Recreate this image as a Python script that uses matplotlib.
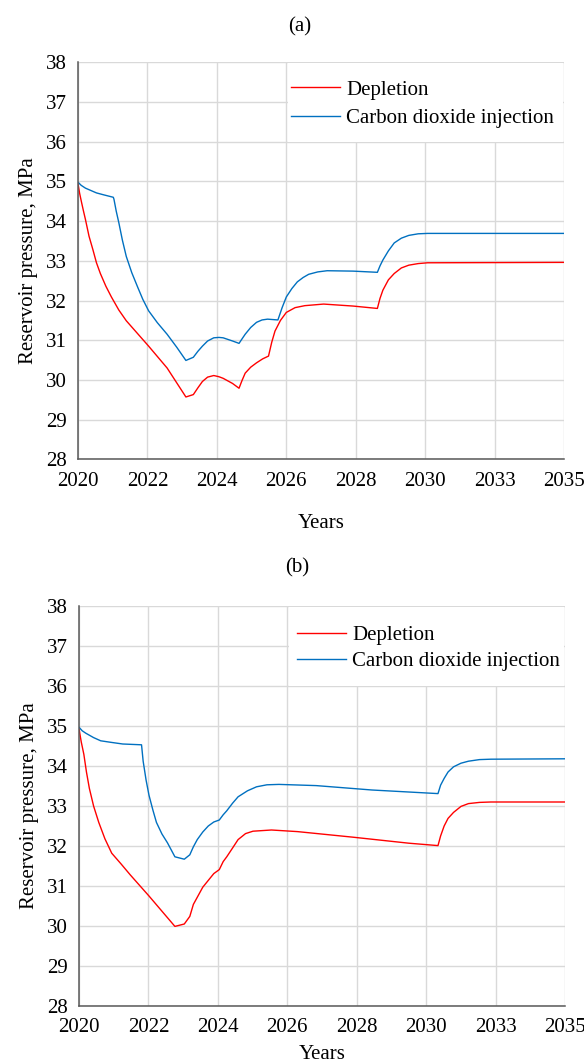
import matplotlib
matplotlib.use("Agg")
import matplotlib.pyplot as plt
import numpy as np
from matplotlib.patches import Rectangle

plt.rcParams["font.family"] = ["Liberation Serif", "DejaVu Serif"]

tick_labels = ["2020", "2022", "2024", "2026", "2028", "2030", "2033", "2035"]
y_ticks = [28, 29, 30, 31, 32, 33, 34, 35, 36, 37, 38]

# panel (a)
years_a_dep = [2020.0, 2020.05, 2020.11, 2020.17, 2020.23, 2020.34, 2020.46, 2020.57, 2020.69,
               2020.86, 2021.03, 2021.26, 2021.49, 2022.18, 2022.75, 2023.33, 2023.56, 2023.7,
               2023.84, 2024.0, 2024.19, 2024.35, 2024.48, 2024.77, 2024.97, 2025.06, 2025.16,
               2025.33, 2025.51, 2025.7, 2025.88, 2025.98, 2026.08, 2026.25, 2026.43, 2026.7,
               2027.0, 2027.58, 2028.49, 2029.24, 2029.32, 2029.41, 2029.58, 2029.76, 2029.98,
               2030.21, 2030.5, 2030.79, 2035.0]
press_a_dep = [34.94, 34.70, 34.47, 34.25, 34.04, 33.62, 33.28, 32.95, 32.68,
               32.36, 32.09, 31.76, 31.49, 30.85, 30.30, 29.57, 29.63, 29.80,
               29.96, 30.07, 30.11, 30.08, 30.04, 29.91, 29.79, 29.98, 30.17,
               30.32, 30.43, 30.53, 30.60, 30.95, 31.23, 31.50, 31.70, 31.82,
               31.87, 31.91, 31.86, 31.80, 32.05, 32.26, 32.52, 32.68, 32.82,
               32.89, 32.93, 32.95, 32.96]
years_a_co2 = [2020.0, 2020.1, 2020.23, 2020.4, 2020.57, 2020.8, 2021.09, 2021.11, 2021.18,
               2021.26, 2021.37, 2021.49, 2021.66, 2021.84, 2022.0, 2022.18, 2022.45, 2022.75,
               2023.05, 2023.33, 2023.56, 2023.7, 2023.84, 2024.0, 2024.19, 2024.35, 2024.48,
               2024.77, 2024.97, 2025.06, 2025.16, 2025.33, 2025.51, 2025.68, 2025.85, 2026.17,
               2026.3, 2026.43, 2026.6, 2026.77, 2026.95, 2027.12, 2027.4, 2027.69, 2028.49,
               2029.24, 2029.32, 2029.41, 2029.58, 2029.76, 2029.98, 2030.21, 2030.5, 2030.79,
               2035.0]
press_a_co2 = [34.98, 34.90, 34.83, 34.77, 34.71, 34.66, 34.60, 34.55, 34.25,
               33.96, 33.52, 33.11, 32.70, 32.34, 32.03, 31.74, 31.44, 31.15,
               30.82, 30.49, 30.57, 30.72, 30.85, 30.98, 31.06, 31.07, 31.06,
               30.98, 30.92, 31.03, 31.15, 31.32, 31.45, 31.51, 31.53, 31.51,
               31.82, 32.09, 32.30, 32.47, 32.58, 32.66, 32.72, 32.75, 32.74,
               32.71, 32.87, 33.02, 33.25, 33.45, 33.57, 33.64, 33.68, 33.69,
               33.69]

# panel (b)
years_b_dep = [2020.0, 2020.07, 2020.15, 2020.23, 2020.32, 2020.45, 2020.61, 2020.8, 2021.01,
               2021.3, 2021.58, 2022.16, 2022.96, 2023.25, 2023.42, 2023.53, 2023.82, 2024.16,
               2024.33, 2024.45, 2024.56, 2024.74, 2024.91, 2025.14, 2025.37, 2025.94, 2026.74,
               2028.46, 2030.18, 2031.08, 2031.16, 2031.27, 2031.39, 2031.56, 2031.79, 2032.02,
               2032.36, 2032.71, 2035.0]
press_b_dep = [34.93, 34.60, 34.29, 33.85, 33.44, 33.00, 32.59, 32.18, 31.82,
               31.55, 31.28, 30.75, 29.99, 30.05, 30.24, 30.54, 30.97, 31.31,
               31.41, 31.61, 31.73, 31.95, 32.16, 32.31, 32.37, 32.40, 32.36,
               32.22, 32.07, 32.01, 32.25, 32.50, 32.69, 32.84, 32.99, 33.06,
               33.09, 33.10, 33.10]
years_b_co2 = [2020.0, 2020.1, 2020.21, 2020.45, 2020.67, 2021.0, 2021.35, 2021.93, 2021.98,
               2022.07, 2022.16, 2022.28, 2022.39, 2022.56, 2022.73, 2022.96, 2023.25, 2023.42,
               2023.53, 2023.65, 2023.82, 2023.99, 2024.16, 2024.33, 2024.45, 2024.56, 2024.74,
               2024.91, 2025.2, 2025.48, 2025.8, 2026.17, 2027.32, 2029.04, 2031.08, 2031.16,
               2031.27, 2031.39, 2031.56, 2031.79, 2032.02, 2032.36, 2032.71, 2035.0]
press_b_co2 = [34.97, 34.88, 34.82, 34.71, 34.63, 34.59, 34.55, 34.53, 34.12,
               33.65, 33.27, 32.90, 32.59, 32.30, 32.08, 31.73, 31.67, 31.78,
               31.98, 32.16, 32.35, 32.50, 32.60, 32.65, 32.78, 32.88, 33.07,
               33.23, 33.38, 33.48, 33.53, 33.54, 33.51, 33.40, 33.31, 33.52,
               33.69, 33.85, 33.98, 34.07, 34.12, 34.16, 34.17, 34.18]

RED = "#ff0000"
BLUE = "#0070c0"
FS = 15

W, H = 584, 1064
fig = plt.figure(figsize=(W / 100, H / 100), dpi=100)


def draw_panel(rect, dep_x, dep_y, co2_x, co2_y, leg_anchor, labelspacing):
    ax = fig.add_axes(rect)
    ax.set_axisbelow(True)
    ax.plot(dep_x, dep_y, color=RED, lw=1.0, label="Depletion", zorder=3)
    ax.plot(co2_x, co2_y, color=BLUE, lw=1.0, label="Carbon dioxide injection", zorder=3)
    ax.set_xlim(2020, 2035)
    ax.set_ylim(28, 38)
    ax.set_xticks(np.linspace(2020, 2035, len(tick_labels)))
    ax.set_xticklabels(tick_labels)
    ax.set_yticks(y_ticks)
    ax.tick_params(length=0, labelsize=FS)
    ax.tick_params(axis="x", pad=9)
    ax.tick_params(axis="y", pad=8)
    ax.grid(True, color="#d9d9d9", lw=1.0)
    for s in ["top", "right"]:
        ax.spines[s].set_visible(False)
    for s in ["left", "bottom"]:
        ax.spines[s].set_color("#595959")
        ax.spines[s].set_linewidth(1.1)
        ax.spines[s].set_zorder(4)
    # white background behind the legend, hides the grid there
    ax.add_patch(Rectangle((3 / 7 + 0.003, 0.8), 4 / 7 - 0.005, 0.2 - 0.003,
                           transform=ax.transAxes, facecolor="white",
                           edgecolor="none", zorder=1))
    ax.legend(loc="upper left", bbox_to_anchor=leg_anchor, frameon=False,
              fontsize=FS, handlelength=2.35, handletextpad=0.3,
              labelspacing=labelspacing, borderpad=0, borderaxespad=0)
    ax.set_ylabel("Reservoir pressure, MPa", fontsize=FS, va="center")
    ax.yaxis.set_label_coords(-0.101, 0.5)
    return ax


ax_a = draw_panel([78 / W, 1 - 459.3 / H, 486 / W, 397 / H],
                  years_a_dep, press_a_dep, years_a_co2, press_a_co2,
                  (0.438, 0.955), 0.42)
ax_a.set_xlabel("Years", fontsize=FS, va="center")
ax_a.xaxis.set_label_coords(0.5, (459.3 - 523) / 397)

ax_b = draw_panel([79 / W, 1 - 1006 / H, 486 / W, 400 / H],
                  years_b_dep, press_b_dep, years_b_co2, press_b_co2,
                  (0.449, 0.951), 0.30)
# bottom label sits right at the lower edge of the figure
fig.text(322 / W, 0.0, "Years", ha="center", va="bottom", fontsize=FS)

fig.text(300 / W, 1 - 27 / H, "(a)", ha="center", va="center", fontsize=FS)
fig.text(297 / W, 1 - 568 / H, "(b)", ha="center", va="center", fontsize=FS)

fig.savefig("out.png", dpi=100)
